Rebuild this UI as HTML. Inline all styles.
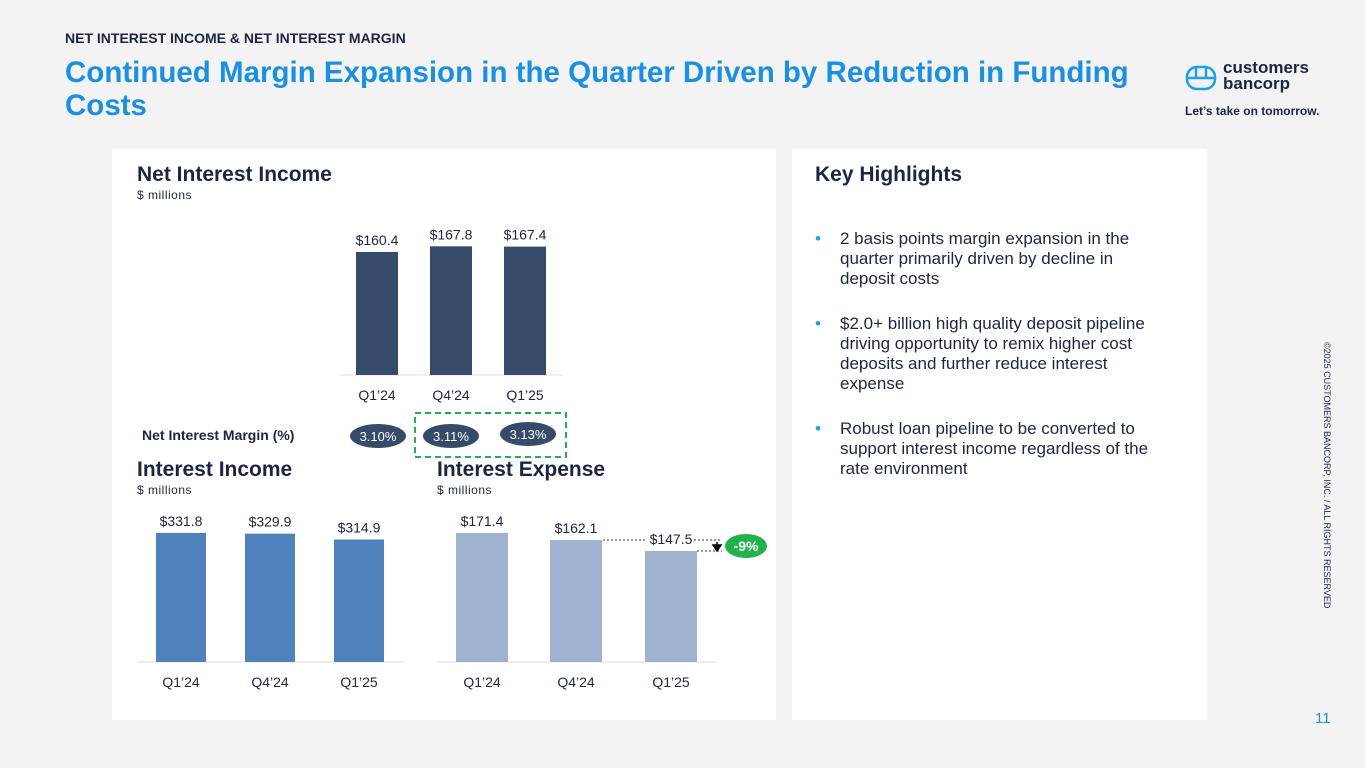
<!DOCTYPE html>
<html><head><meta charset="utf-8"><style>
body{margin:0;width:1365px;height:768px;background:#f3f3f3;font-family:"Liberation Sans",sans-serif;position:relative;overflow:hidden;color:#1c2541}
.abs{position:absolute}
.panel{position:absolute;background:#fff}
.h{font-weight:bold;font-size:21px;color:#1c2541}
.sub{font-size:12px;color:#1c2541;letter-spacing:.5px}
ul{margin:0;padding:0;list-style:none}
li{position:relative;padding-left:25px;font-size:17px;line-height:20px;color:#1c2541;margin-bottom:25px}
li:before{content:"•";position:absolute;left:0;color:#1ba0e2}
</style></head><body>
<div class="abs" style="left:65px;top:30px;font-size:14px;font-weight:bold">NET INTEREST INCOME &amp; NET INTEREST MARGIN</div>
<div class="abs" style="left:65px;top:56px;width:1100px;font-size:29.5px;line-height:33px;color:#1b8fe0;font-weight:bold">Continued Margin Expansion in the Quarter Driven by Reduction in Funding Costs</div>
<div class="abs" style="left:1185px;top:62px">
<svg width="32" height="26" style="position:absolute;left:0;top:3px"><rect x="2" y="2" width="28" height="22" rx="10" fill="none" stroke="#1ba0e2" stroke-width="2.5"/><line x1="2" y1="13" x2="30" y2="13" stroke="#1ba0e2" stroke-width="2.5"/><line x1="11" y1="2" x2="11" y2="13" stroke="#1ba0e2" stroke-width="2.5"/><line x1="21" y1="2" x2="21" y2="13" stroke="#1ba0e2" stroke-width="2.5"/></svg>
<div style="position:absolute;left:38px;top:-2px;font-size:17px;line-height:16px;font-weight:bold;color:#1c2541">customers<br>bancorp</div></div>
<div class="abs" style="left:1185px;top:104px;font-size:12px;font-weight:bold">Let’s take on tomorrow.</div>
<div class="abs" style="left:1332px;top:342px;font-size:9px;color:#1c2541;transform:rotate(90deg);transform-origin:0 0;white-space:nowrap">©2025 CUSTOMERS BANCORP, INC. / ALL RIGHTS RESERVED</div>
<div class="abs" style="left:1315px;top:710px;font-size:15px;color:#1b8fe0">11</div>

<div class="panel" style="left:112px;top:149px;width:664px;height:571px"></div>
<div class="panel" style="left:792px;top:149px;width:415px;height:571px"></div>

<div class="abs h" style="left:137px;top:163px">Net Interest Income</div>
<div class="abs sub" style="left:137px;top:188px">$ millions</div>
<div class="abs h" style="left:137px;top:458px">Interest Income</div>
<div class="abs sub" style="left:137px;top:483px">$ millions</div>
<div class="abs h" style="left:437px;top:458px">Interest Expense</div>
<div class="abs sub" style="left:437px;top:483px">$ millions</div>
<div class="abs" style="left:142px;top:427px;font-size:14px;font-weight:bold">Net Interest Margin (%)</div>

<div class="abs h" style="left:815px;top:163px">Key Highlights</div>
<ul class="abs" style="left:815px;top:229px;width:345px">
<li>2 basis points margin expansion in the quarter primarily driven by decline in deposit costs</li>
<li>$2.0+ billion high quality deposit pipeline driving opportunity to remix higher cost deposits and further reduce interest expense</li>
<li>Robust loan pipeline to be converted to support interest income regardless of the rate environment</li>
</ul>

<svg class="abs" style="left:0;top:0" width="1365" height="768" id="charts"></svg>
<script>
const categories=["Q1’24","Q4’24","Q1’25"];
const niiValues=[160.4,167.8,167.4];
const iiValues=[331.8,329.9,314.9];
const ieValues=[171.4,162.1,147.5];
const nimValues=[3.10,3.11,3.13];
const ieChange="-9%";
const svg=document.getElementById('charts');
const NS="http://www.w3.org/2000/svg";
function mk(t,a,txt){const e=document.createElementNS(NS,t);for(const k in a)e.setAttribute(k,a[k]);if(txt!==undefined)e.textContent=txt;svg.appendChild(e);return e;}
function chart(name,vals,xs,bw,base,scale,color,axisX1,axisX2){
 const yScale=v=>base-v*scale;
 const ax=mk('line',{x1:axisX1,x2:axisX2,y1:base,y2:base,stroke:'#ddd','stroke-width':1});
 
 
 vals.forEach((v,i)=>{
  const r=mk('rect',{x:xs[i],y:yScale(v),width:bw,height:base-yScale(v),fill:color});
  
  
  const t=mk('text',{x:xs[i]+bw/2,y:yScale(v)-7,'text-anchor':'middle','font-size':14,fill:'#1c2541','font-family':'Liberation Sans'},'$'+v.toFixed(1));
  
  
  const c=mk('text',{x:xs[i]+bw/2,y:base+25,'text-anchor':'middle','font-size':14,fill:'#1c2541','font-family':'Liberation Sans'},categories[i]);
  
  
 });
 return yScale;
}
chart('nii',niiValues,[356,430,504],42,375,0.767,'#364a6a',340,562);
chart('ii',iiValues,[156,245,334],50,662,0.389,'#4f81bd',137,405);
const ieY=chart('ie',ieValues,[456,550,645],52,662,0.7526,'#9fb2d0',437,718);
const nimX=[378,451,528],nimY=[436,436,434];
const box=mk('rect',{x:415,y:413,width:151,height:44,fill:'none',stroke:'#22b14c','stroke-width':2,'stroke-dasharray':'6 4'});


nimValues.forEach((v,i)=>{
 const e=mk('ellipse',{cx:nimX[i],cy:nimY[i],rx:28,ry:12,fill:'#364a6a'});
 
 
 const t=mk('text',{x:nimX[i],y:nimY[i]+5,'text-anchor':'middle','font-size':13,fill:'#fff','font-family':'Liberation Sans'},v.toFixed(2)+'%');
 
 
});
const y0=ieY(ieValues[1]),y1=ieY(ieValues[2]);
const d1=mk('line',{x1:603,x2:646,y1:y0,y2:y0,stroke:'#333','stroke-dasharray':'2 2'});


const d1b=mk('line',{x1:694,x2:722,y1:y0,y2:y0,stroke:'#333','stroke-dasharray':'2 2'});


const d2=mk('line',{x1:697,x2:722,y1:y1,y2:y1,stroke:'#333','stroke-dasharray':'2 2'});


const ar=mk('path',{d:`M717 ${y0+2} L717 ${y1-4} M713 ${y1-6} L717 ${y1} L721 ${y1-6} Z`,stroke:'#000','stroke-width':1.5,fill:'#000'});


const pe=mk('ellipse',{cx:746,cy:546,rx:21,ry:12,fill:'#22b14c'});


const pt=mk('text',{x:746,y:551,'text-anchor':'middle','font-size':14,'font-weight':'bold',fill:'#fff','font-family':'Liberation Sans'},ieChange);


</script>
</body></html>
